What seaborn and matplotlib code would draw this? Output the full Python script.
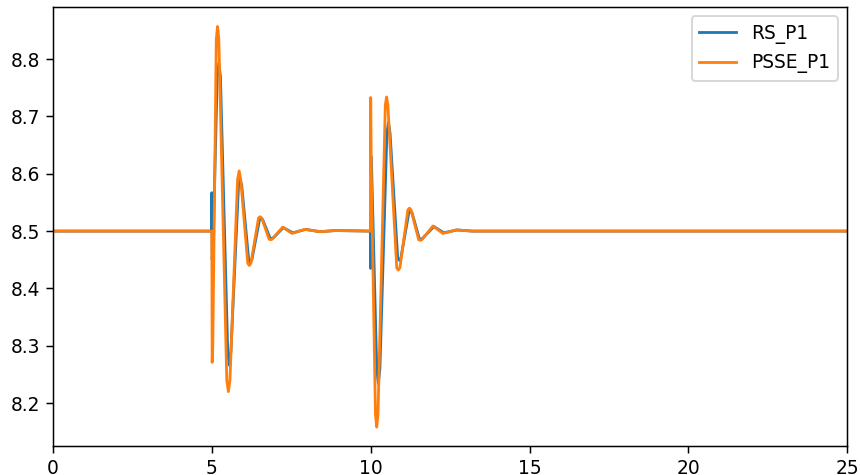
import pandas as pd
import seaborn as sns
import matplotlib
matplotlib.use("Agg")
import matplotlib.pyplot as plt

# RS_P1 : valeurs
rs_t = [0, 4.99, 5.00, 5.01, 5.04, 5.17, 5.22, 5.27, 5.50, 5.55, 5.60,
        5.84, 5.89, 5.94, 6.16, 6.21, 6.26, 6.50, 6.55, 6.60, 6.83, 6.88,
        6.93, 7.25, 7.55, 7.95, 8.4, 8.9,
        9.99, 10.00, 10.02, 10.19, 10.24, 10.29, 10.51, 10.56, 10.61,
        10.85, 10.90, 10.95, 11.20, 11.25, 11.30, 11.53, 11.58, 11.63,
        11.99, 12.30, 12.72, 13.2, 25]
rs_v = [8.5, 8.5, 8.567, 8.45, 8.48, 8.77, 8.793, 8.77, 8.29, 8.266, 8.29,
        8.58, 8.589, 8.58, 8.45, 8.446, 8.45, 8.52, 8.522, 8.52, 8.488, 8.487,
        8.488, 8.506, 8.497, 8.503, 8.499, 8.501,
        8.5, 8.435, 8.63, 8.26, 8.234, 8.26, 8.67, 8.69, 8.67,
        8.453, 8.449, 8.453, 8.532, 8.535, 8.532, 8.487, 8.486, 8.487,
        8.508, 8.497, 8.502, 8.5, 8.5]

# PSSE_P1
ps_t = [0, 5.00, 5.01, 5.03, 5.14, 5.18, 5.22, 5.47, 5.52, 5.57,
        5.81, 5.86, 5.91, 6.13, 6.18, 6.23, 6.47, 6.52, 6.57, 6.80, 6.85,
        6.90, 7.23, 7.52, 7.93, 8.4, 8.9,
        9.99, 10.00, 10.02, 10.15, 10.19, 10.23, 10.46, 10.50, 10.54,
        10.82, 10.87, 10.92, 11.17, 11.22, 11.27, 11.51, 11.56, 11.61,
        11.96, 12.27, 12.69, 13.2, 25]
ps_v = [8.5, 8.5, 8.271, 8.30, 8.835, 8.857, 8.835, 8.24, 8.22, 8.24,
        8.59, 8.605, 8.59, 8.444, 8.44, 8.444, 8.523, 8.525, 8.523, 8.486, 8.485,
        8.486, 8.507, 8.496, 8.503, 8.499, 8.501,
        8.5, 8.733, 8.60, 8.18, 8.158, 8.18, 8.72, 8.734, 8.72,
        8.436, 8.432, 8.436, 8.537, 8.54, 8.537, 8.485, 8.484, 8.485,
        8.509, 8.496, 8.502, 8.5, 8.5]

rs_df = pd.DataFrame({"t": rs_t, "P": rs_v})
ps_df = pd.DataFrame({"t": ps_t, "P": ps_v})

fig, ax = plt.subplots(figsize=(6.4, 3.535), dpi=134.4)
sns.lineplot(data=rs_df, x="t", y="P", ax=ax, color="tab:blue",
             label="RS_P1", estimator=None, sort=False)
sns.lineplot(data=ps_df, x="t", y="P", ax=ax, color="tab:orange",
             label="PSSE_P1", estimator=None, sort=False)

ax.set_xlim(0, 25)
ax.set_ylim(8.125, 8.891)
ax.set_xlabel("")
ax.set_ylabel("")
ax.legend(loc="upper right")
fig.subplots_adjust(left=0.0616, right=0.985, bottom=0.061, top=0.985)
fig.savefig("out.png")
